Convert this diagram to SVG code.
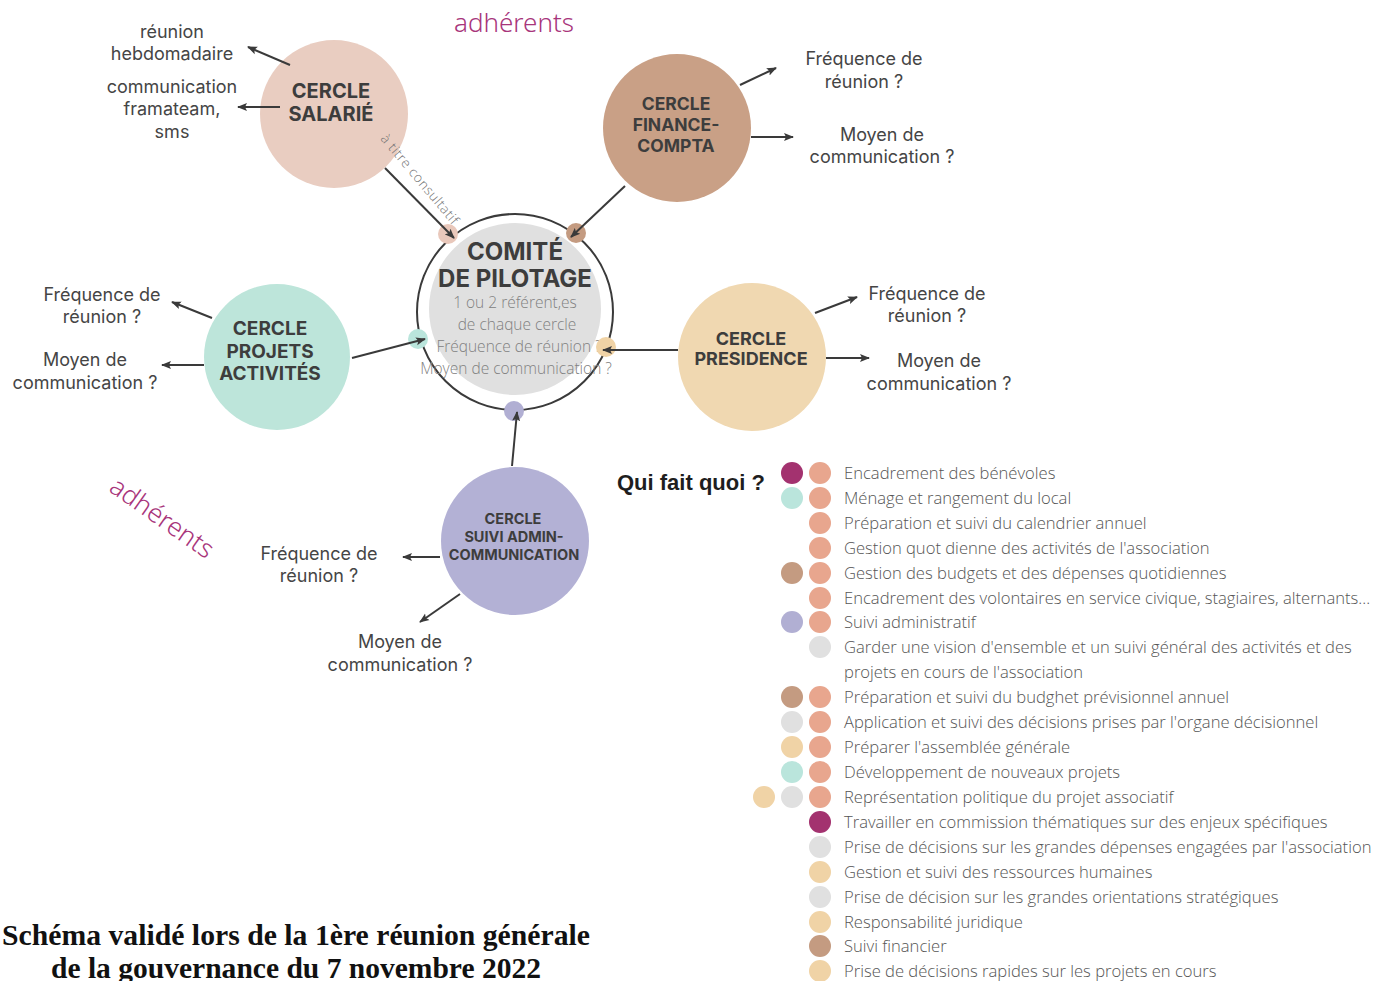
<svg xmlns="http://www.w3.org/2000/svg" width="1378" height="981" viewBox="0 0 1378 981">
<defs>
<marker id="ah" markerUnits="userSpaceOnUse" markerWidth="10" markerHeight="10" refX="9" refY="5" orient="auto">
<path d="M0,1 L10,5 L0,9 L2,5 Z" fill="#3a3a3a"/>
</marker>
<style>
.lbl{font-family:Inter,"Liberation Sans",sans-serif;font-size:18px;fill:#454545;text-anchor:middle}
.ttl{font-family:Inter,"Liberation Sans",sans-serif;font-weight:700;fill:#3d3d3d;text-anchor:middle}
.cm{font-family:"Open Sans","Liberation Sans",sans-serif;font-weight:300;font-size:15.5px;fill:#808080;text-anchor:middle}
.lg{font-family:"Open Sans","Liberation Sans",sans-serif;font-weight:300;font-size:16.6px;fill:#555}
.adh{font-family:"Noto Sans","Liberation Sans",sans-serif;font-weight:300;font-size:26px;fill:#a8357b}
.cn line,.cn path{stroke:#3a3a3a;stroke-width:2;fill:none;marker-end:url(#ah)}
.m{fill:#a3326f}.s{fill:#e8a68e}.t{fill:#bae5dc}.b{fill:#c49b81}.l{fill:#b1afd3}.g{fill:#e0e0e0}.y{fill:#f0d3a6}
</style>
</defs>
<rect width="1378" height="981" fill="#ffffff"/>

<text class="adh" x="514" y="32" text-anchor="middle">adhérents</text>
<text class="adh" transform="translate(157,525) rotate(35)" text-anchor="middle">adhérents</text>

<g id="comite">
<circle cx="515" cy="312" r="98" fill="none" stroke="#3a3a3a" stroke-width="2"/>
<circle cx="515" cy="309" r="86" fill="#e0e0e0"/>
<text class="ttl" x="515" y="260" font-size="24">COMITÉ</text>
<text class="ttl" x="515" y="287" font-size="24">DE PILOTAGE</text>
<text class="cm" x="515" y="308">1 ou 2 référent,es</text>
<text class="cm" x="517" y="330">de chaque cercle</text>
<text class="cm" x="519" y="352">Fréquence de réunion ?</text>
<text class="cm" x="516" y="374">Moyen de communication ?</text>
<circle cx="448" cy="234" r="10" fill="#e9c8bb"/>
<circle cx="576" cy="233" r="10" fill="#c49b81"/>
<circle cx="418" cy="339" r="10" fill="#bae5dc"/>
<circle cx="606" cy="347" r="10" fill="#f0d3a6"/>
<circle cx="514" cy="411" r="10" fill="#b1afd3"/>
</g>

<g id="salarie">
<circle cx="334" cy="114" r="74" fill="#e9cdc1"/>
<text class="ttl" x="331" y="98" font-size="20">CERCLE</text>
<text class="ttl" x="331" y="121" font-size="20">SALARIÉ</text>
<text class="lbl" x="172" y="38">réunion</text>
<text class="lbl" x="172" y="60">hebdomadaire</text>
<text class="lbl" x="172" y="93">communication</text>
<text class="lbl" x="172" y="115">framateam,</text>
<text class="lbl" x="172" y="138">sms</text>
<text font-family="'Open Sans','Liberation Sans',sans-serif" font-weight="300" font-size="13.5" letter-spacing="0.6" fill="#707070" transform="translate(380,139) rotate(50)">à titre consultatif</text>
</g>

<g id="finance">
<circle cx="677" cy="128" r="74" fill="#c9a086"/>
<text class="ttl" x="676" y="110" font-size="17.5">CERCLE</text>
<text class="ttl" x="676" y="131" font-size="17.5">FINANCE-</text>
<text class="ttl" x="676" y="152" font-size="17.5">COMPTA</text>
<text class="lbl" x="864" y="65">Fréquence de</text>
<text class="lbl" x="864" y="88">réunion ?</text>
<text class="lbl" x="882" y="141">Moyen de</text>
<text class="lbl" x="882" y="163">communication ?</text>
</g>

<g id="projets">
<circle cx="277" cy="357" r="73" fill="#bde5da"/>
<text class="ttl" x="270" y="335" font-size="19">CERCLE</text>
<text class="ttl" x="270" y="358" font-size="19">PROJETS</text>
<text class="ttl" x="270" y="380" font-size="19">ACTIVITÉS</text>
<text class="lbl" x="102" y="301">Fréquence de</text>
<text class="lbl" x="102" y="323">réunion ?</text>
<text class="lbl" x="85" y="366">Moyen de</text>
<text class="lbl" x="85" y="389">communication ?</text>
</g>

<g id="presidence">
<circle cx="752" cy="357" r="74" fill="#f0d8b1"/>
<text class="ttl" x="751" y="345" font-size="18">CERCLE</text>
<text class="ttl" x="751" y="365" font-size="18">PRESIDENCE</text>
<text class="lbl" x="927" y="300">Fréquence de</text>
<text class="lbl" x="927" y="322">réunion ?</text>
<text class="lbl" x="939" y="367">Moyen de</text>
<text class="lbl" x="939" y="390">communication ?</text>
</g>

<g id="admin">
<circle cx="515" cy="541" r="74" fill="#b3b1d5"/>
<text class="ttl" x="513" y="524" font-size="14.5">CERCLE</text>
<text class="ttl" x="514" y="542" font-size="14.5">SUIVI ADMIN-</text>
<text class="ttl" x="514" y="560" font-size="14.5">COMMUNICATION</text>
<text class="lbl" x="319" y="560">Fréquence de</text>
<text class="lbl" x="319" y="582">réunion ?</text>
<text class="lbl" x="400" y="648">Moyen de</text>
<text class="lbl" x="400" y="671">communication ?</text>
</g>

<g id="connectors" class="cn">
<line x1="290" y1="65" x2="248" y2="47"/>
<line x1="280" y1="107" x2="238" y2="107"/>
<line x1="385" y1="168" x2="454" y2="238"/>
<line x1="625" y1="186" x2="571" y2="237"/>
<line x1="740" y1="85" x2="776" y2="68"/>
<line x1="751" y1="137" x2="793" y2="137"/>
<line x1="212" y1="318" x2="172" y2="302"/>
<line x1="204" y1="365" x2="162" y2="365"/>
<line x1="352" y1="358" x2="425" y2="339"/>
<line x1="678" y1="350" x2="603" y2="350"/>
<line x1="815" y1="313" x2="857" y2="297"/>
<line x1="826" y1="358" x2="869" y2="358"/>
<line x1="512" y1="466" x2="517" y2="412"/>
<line x1="440" y1="557" x2="403" y2="557"/>
<line x1="460" y1="594" x2="420" y2="622"/>
</g>

<g id="legend">
<text x="617" y="490" font-family="'Liberation Sans Narrow','Liberation Sans',sans-serif" font-weight="700" font-size="22" fill="#1e1e1e">Qui fait quoi ?</text>
<circle class="m" cx="792" cy="473" r="11"/><circle class="s" cx="820" cy="473" r="11"/>
<circle class="t" cx="792" cy="498" r="11"/><circle class="s" cx="820" cy="498" r="11"/>
<circle class="s" cx="820" cy="523" r="11"/>
<circle class="s" cx="820" cy="548" r="11"/>
<circle class="b" cx="792" cy="573" r="11"/><circle class="s" cx="820" cy="573" r="11"/>
<circle class="s" cx="820" cy="598" r="11"/>
<circle class="l" cx="792" cy="622" r="11"/><circle class="s" cx="820" cy="622" r="11"/>
<circle class="g" cx="820" cy="647" r="11"/>
<circle class="b" cx="792" cy="697" r="11"/><circle class="s" cx="820" cy="697" r="11"/>
<circle class="g" cx="792" cy="722" r="11"/><circle class="s" cx="820" cy="722" r="11"/>
<circle class="y" cx="792" cy="747" r="11"/><circle class="s" cx="820" cy="747" r="11"/>
<circle class="t" cx="792" cy="772" r="11"/><circle class="s" cx="820" cy="772" r="11"/>
<circle class="y" cx="764" cy="797" r="11"/><circle class="g" cx="792" cy="797" r="11"/><circle class="s" cx="820" cy="797" r="11"/>
<circle class="m" cx="820" cy="822" r="11"/>
<circle class="g" cx="820" cy="847" r="11"/>
<circle class="y" cx="820" cy="872" r="11"/>
<circle class="g" cx="820" cy="897" r="11"/>
<circle class="y" cx="820" cy="922" r="11"/>
<circle class="b" cx="820" cy="946" r="11"/>
<circle class="y" cx="820" cy="971" r="11"/>
<text class="lg" x="844" y="479">Encadrement des bénévoles</text>
<text class="lg" x="844" y="504">Ménage et rangement du local</text>
<text class="lg" x="844" y="529">Préparation et suivi du calendrier annuel</text>
<text class="lg" x="844" y="554">Gestion quot dienne des activités de l'association</text>
<text class="lg" x="844" y="579">Gestion des budgets et des dépenses quotidiennes</text>
<text class="lg" x="844" y="604">Encadrement des volontaires en service civique, stagiaires, alternants...</text>
<text class="lg" x="844" y="628">Suivi administratif</text>
<text class="lg" x="844" y="653">Garder une vision d'ensemble et un suivi général des activités et des</text>
<text class="lg" x="844" y="678">projets en cours de l'association</text>
<text class="lg" x="844" y="703">Préparation et suivi du budghet prévisionnel annuel</text>
<text class="lg" x="844" y="728">Application et suivi des décisions prises par l'organe décisionnel</text>
<text class="lg" x="844" y="753">Préparer l'assemblée générale</text>
<text class="lg" x="844" y="778">Développement de nouveaux projets</text>
<text class="lg" x="844" y="803">Représentation politique du projet associatif</text>
<text class="lg" x="844" y="828">Travailler en commission thématiques sur des enjeux spécifiques</text>
<text class="lg" x="844" y="853">Prise de décisions sur les grandes dépenses engagées par l'association</text>
<text class="lg" x="844" y="878">Gestion et suivi des ressources humaines</text>
<text class="lg" x="844" y="903">Prise de décision sur les grandes orientations stratégiques</text>
<text class="lg" x="844" y="928">Responsabilité juridique</text>
<text class="lg" x="844" y="952">Suivi financier</text>
<text class="lg" x="844" y="977">Prise de décisions rapides sur les projets en cours</text>
</g>

<g id="title" font-family="'Liberation Serif',serif" font-weight="700" font-size="29" fill="#111" text-anchor="middle">
<text x="296" y="945" textLength="588" lengthAdjust="spacingAndGlyphs">Schéma validé lors de la 1ère réunion générale</text>
<text x="296" y="978" textLength="490" lengthAdjust="spacingAndGlyphs">de la gouvernance du 7 novembre 2022</text>
</g>
</svg>
